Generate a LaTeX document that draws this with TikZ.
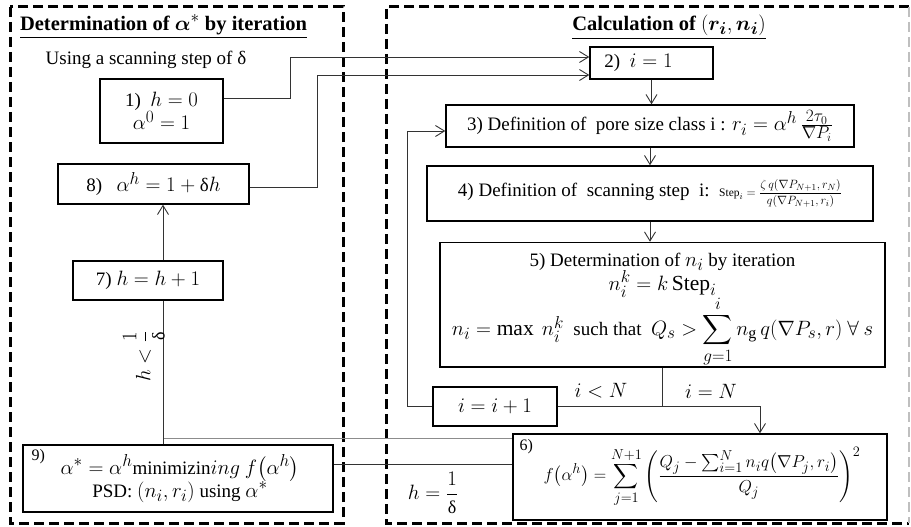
\documentclass[tikz,border=0pt]{standalone}
\usepackage{amsmath}
\usepackage{fontspec}
\setmainfont{Liberation Serif}
\usetikzlibrary{arrows.meta,calc}
\DeclareMathSizes{19}{21.5}{16}{12}
\DeclareMathSizes{17}{18.7}{14}{11}
\DeclareMathSizes{20.5}{22}{16}{12}
\DeclareMathSizes{16}{17}{13}{10}
\DeclareMathSizes{11}{11.5}{9}{7}
\DeclareMathSizes{18}{19.5}{14}{11}
\newcommand\myd{\mbox{δ}}
\begin{document}
\begin{tikzpicture}[x=1pt,y=-1pt,
  font=\fontsize{19}{23}\selectfont,
  bx/.style={draw, line width=1.4pt, inner sep=2pt, align=center},
  cn/.style={line width=0.9pt, draw=black!80},
  ar/.style={cn, -{Straight Barb[length=9pt,width=11pt,line width=0.9pt]}},
  frm/.style={line width=3pt, dash pattern=on 10pt off 5pt},
  ttl/.style={font=\fontsize{20.5}{24}\selectfont\bfseries},
  lb/.style={font=\fontsize{18}{21}\selectfont},
  nlbl/.style={inner sep=0pt, font=\fontsize{16}{18}\selectfont}]
\useasboundingbox (0,0) rectangle (911,527);

% frames
\draw[frm] (10,7) rectangle (343,523);
\draw[frm] (909,7) -- (386,7) -- (386,523) -- (909,523);
\draw[line width=2pt, draw=black!25, dash pattern=on 10pt off 5pt] (909,7) -- (909,523);

% titles
\node[ttl] (t1) at (163.5,27) {\underline{Determination of $\boldsymbol{\alpha}^*$ by iteration}};
\node[ttl] (t2) at (669,27) {\underline{Calculation of $(\boldsymbol{r_i}, \boldsymbol{n_i})$}};
\node (us) at (146,60) {Using a scanning step of δ};

% boxes left
\node[bx, minimum width=123pt, minimum height=64pt] (b1) at (161.5,111)
  {1)\ \ $h = 0$\\$\alpha^0 = 1$};
\node[bx, minimum width=191pt, minimum height=40pt] (b8) at (153.5,184)
  {8)\ \ \ $\alpha^h = 1 + \myd h$};
\node[bx, minimum width=150pt, minimum height=39pt] (b7) at (148,280.5)
  {7) $h = h + 1$};
\node[bx, minimum width=310pt, minimum height=67pt,
  label={[nlbl, anchor=north west, xshift=9pt, yshift=-5pt]north west:9)}] (b9) at (178,478.5)
  {\hspace*{4pt}$\alpha^* = \alpha^h$minimizin$ing\ f\bigl(\alpha^h\bigr)$\\\hspace*{4pt}PSD: $(n_i, r_i)$ using $\alpha^*$};

% boxes right
\node[bx, minimum width=123pt, minimum height=32pt] (b2) at (651.5,63)
  {2)\ \ $i = 1$\hspace*{26pt}};
\node[bx, minimum width=408pt, minimum height=42pt] (b3) at (650,126)
  {3) Definition of\ \ pore size class i : $r_i = \alpha^h\,\frac{2\tau_0}{\nabla P_i}$};
\node[bx, minimum width=446pt, minimum height=55pt] (b4) at (650,193.5)
  {4) Definition of\ \ scanning step\ \ i:\ \ {\fontsize{11}{13}\selectfont$\mathrm{Step}_i = \dfrac{\zeta\, q(\nabla P_{N+1}, r_N)}{q(\nabla P_{N+1}, r_i)}$}};
\node[bx, inner ysep=0pt, minimum width=445pt, minimum height=124.5pt] (b5) at (662.5,304.75)
  {\rule{0pt}{24pt}5) Determination of $n_i$ by iteration\\[-1pt]$n_i^k = k\,\mathrm{Step}_i$\\[-2pt]$n_i = \max\ n_i^k$\ \ such that\ \ $Q_s > \displaystyle\sum_{g=1}^{i} n_{\mathrm{g}}\, q(\nabla P_s, r)\ \forall\ s$};
\node[bx, minimum width=124pt, minimum height=39pt] (bii) at (495,406.5)
  {$i = i + 1$};
\node[bx, minimum width=374pt, minimum height=86pt, font=\fontsize{17}{20}\selectfont,
  label={[nlbl, anchor=north west, xshift=7pt, yshift=-6pt]north west:6)}] (b6) at (700,477)
  {\hspace*{4pt}$\displaystyle f\bigl(\alpha^h\bigr) = \sum_{j=1}^{N+1}\left(\frac{Q_j - \sum_{i=1}^{N} n_i q\bigl(\nabla P_j, r_i\bigr)}{Q_j}\right)^{2}$};

% bend coordinates
\coordinate (k1) at (290,57);
\coordinate (k2) at (317,75);
\coordinate (k3) at (760,406.5);
\coordinate (k4) at (407,131);
\coordinate (k5) at ([yshift=14pt]b9.east);
\coordinate (k6) at (163,438.5);
\coordinate (v) at (163,445);

% connectors
\draw[ar] ([yshift=13pt]b1.east) -| (k1) -- (k1 -| b2.west);
\draw[ar] ([yshift=-3pt]b8.east) -| (k2) -- (k2 -| b2.west);
\draw[ar] (b2.south) -- (b2.south |- b3.north);
\draw[ar] (b3.south) -- (b3.south |- b4.north);
\draw[ar] (b4.south) -- (b4.south |- b5.north);
\draw[cn] (b5.south) -- (b5.south |- bii.east);
\draw[ar] (bii.east) -- (k3) -- (k3 |- b6.north);
\draw[ar] (bii.west) -| (k4) -- (k4 -| b3.west);
\draw[cn] (k5) -- (k5 -| b6.west);
\draw[cn, draw=black!45] (k6) -- (k6 -| b6.west);
\draw[cn] (v |- b9.north) -- (v |- b7.south);
\draw[ar] (v |- b7.north) -- (v |- b8.south);

% labels
\node[lb, rotate=90] (l1) at (144,356) {$h < \dfrac{1}{\myd}$};
\node[lb] (l2) at (433,493) {$h = \dfrac{1}{\myd}$};
\node[lb] (l3) at (601,391) {$i < N$};
\node[lb] (l4) at (711,391) {$i = N$};
\end{tikzpicture}
\end{document}
